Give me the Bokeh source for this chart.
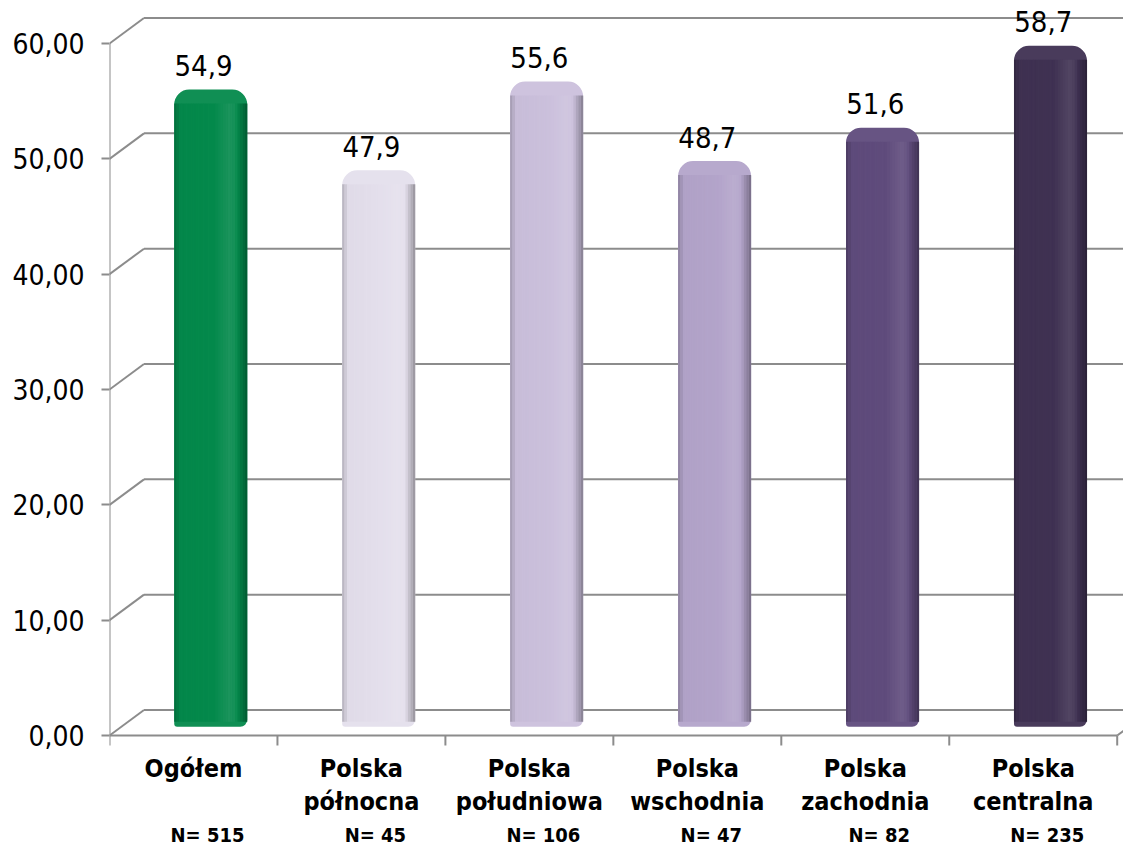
from bokeh.plotting import figure
from bokeh.models import Range1d, LinearAxis, FixedTicker
from bokeh.core.properties import value
from bokeh.embed import file_html
from bokeh.resources import INLINE

# ---------------- data ----------------
categories = ["Ogółem", "Polska\npółnocna", "Polska\npołudniowa",
              "Polska\nwschodnia", "Polska\nzachodnia", "Polska\ncentralna"]
values = [54.9, 47.9, 55.6, 48.7, 51.6, 58.7]
sample_sizes = [515, 45, 106, 47, 82, 235]
y_ticks = [0, 10, 20, 30, 40, 50, 60]

# ---------------- style ----------------
bar_colors = ["#03894B", "#E4DFEC", "#CBC0DC", "#B3A4CA", "#5F4B7C", "#3F3152"]
GRID = "#8c8c8c"
FONT = "DejaVu Sans Condensed"

W, H = 1123, 849
LEFT = 109
PX_X = 167.95      # px per category
PX_Y = 11.533      # px per value unit
ZERO_Y = 735       # canvas y of the front floor edge
TXT = 11           # baseline compensation (px)
x_end = (W - LEFT) / PX_X
y_end = ZERO_Y / PX_Y
y_start = y_end - H / PX_Y
DX = 34.5 / PX_X   # depth offset (x)
DY = 25.5 / PX_Y   # depth offset (y)
n = len(categories)


def mix(hexcol, f):
    r, g, b = (int(hexcol[i:i + 2], 16) for i in (1, 3, 5))
    if f >= 0:
        r, g, b = (c + (255 - c) * f for c in (r, g, b))
    else:
        r, g, b = (c * (1 + f) for c in (r, g, b))
    return "#%02x%02x%02x" % (int(round(r)), int(round(g)), int(round(b)))


def ypx(page_y):
    """canvas pixel row -> data value"""
    return (ZERO_Y - page_y) / PX_Y


p = figure(width=W, height=H, output_backend="svg", toolbar_location=None,
           x_range=Range1d(0, x_end), y_range=Range1d(y_start, y_end),
           x_axis_location=None, y_axis_location=None,
           min_border_left=LEFT, min_border_right=0, min_border_top=0,
           min_border_bottom=0, background_fill_color="white",
           border_fill_color="white", outline_line_color=None)
p.grid.visible = False

# ---------------- walls / gridlines ----------------
x0s, y0s, x1s, y1s = [], [], [], []
for t in y_ticks:
    x0s += [0, DX]
    y0s += [t, t + DY]
    x1s += [DX, n + DX]
    y1s += [t + DY, t + DY]
# front floor edge, right floor diagonal, front value axis
x0s += [0, n, 0]
y0s += [0, 0, 0]
x1s += [n, n + DX, 0]
y1s += [0, DY, y_ticks[-1]]
# category boundary ticks
for k in range(n + 1):
    x0s.append(k); y0s.append(0); x1s.append(k); y1s.append(-10 / PX_Y)
p.segment(x0=x0s, y0=y0s, x1=x1s, y1=y1s, line_color=GRID, line_width=2)

# ---------------- bars ----------------
bw = 73 / PX_X
xc = [i + 0.5 + DX / 2 for i in range(n)]
bot = DY / 2 - 4 / PX_Y
tops = [v + DY / 2 for v in values]
p.vbar(x=xc, width=bw, top=tops, bottom=bot,
       fill_color=[mix(c, 0.05) for c in bar_colors], line_color=None,
       border_radius=(15, 15, 7, 3))

# smooth cylinder-like shading (piecewise linear profile across bar width)
knots = [(0.0, -0.22), (0.08, -0.02), (0.55, 0.0), (0.76, 0.10),
         (0.84, 0.06), (0.92, -0.15), (1.0, -0.35)]


def shade(f):
    for (a, fa), (b, fb) in zip(knots[:-1], knots[1:]):
        if a <= f <= b:
            return fa + (fb - fa) * (f - a) / (b - a)
    return 0.0


NS = 30
L, R, T, B, C = [], [], [], [], []
for i in range(n):
    x_left = xc[i] - bw / 2
    for j in range(NS):
        f0, f1 = j / NS, (j + 1) / NS
        L.append(x_left + f0 * bw)
        R.append(x_left + f1 * bw + 0.0005)
        T.append(tops[i] - 14 / PX_Y)
        B.append(bot + 5 / PX_Y)
        C.append(mix(bar_colors[i], shade((f0 + f1) / 2)))
p.quad(left=L, right=R, top=T, bottom=B, fill_color=C, line_color=None)

# ---------------- value labels ----------------
p.text(x=[i + 0.5 + 10 / PX_X for i in range(n)],
       y=[t + (13 + TXT) / PX_Y for t in tops],
       text=[("%.1f" % v).replace(".", ",") for v in values],
       text_align="center", text_baseline="alphabetic",
       text_font=value(FONT), text_font_size="29px", text_color="black")

# ---------------- category labels ----------------
line1 = [c.split("\n")[0] for c in categories]
line2 = [c.split("\n")[1] if "\n" in c else "" for c in categories]
cx = [i + 0.5 for i in range(n)]
p.text(x=cx, y=[ypx(779 - TXT)] * n, text=line1, text_align="center",
       text_baseline="alphabetic", text_font=value(FONT),
       text_font_size="25px", text_font_style="bold", text_color="black")
p.text(x=cx, y=[ypx(812 - TXT)] * n, text=line2, text_align="center",
       text_baseline="alphabetic", text_font=value(FONT),
       text_font_size="25px", text_font_style="bold", text_color="black")
p.text(x=[i + 0.5 + 14 / PX_X for i in range(n)], y=[ypx(845 - TXT)] * n,
       text=["N= %d" % s for s in sample_sizes], text_align="center",
       text_baseline="alphabetic", text_font=value(FONT),
       text_font_size="20px", text_font_style="bold", text_color="black")

# ---------------- value axis ----------------
yaxis = LinearAxis(ticker=FixedTicker(ticks=y_ticks),
                   major_label_overrides={t: "%d,00" % t for t in y_ticks})
yaxis.axis_line_color = None
yaxis.major_tick_line_color = GRID
yaxis.major_tick_line_width = 2
yaxis.major_tick_out = 8
yaxis.major_tick_in = 0
yaxis.minor_tick_line_color = None
yaxis.major_label_standoff = 17
yaxis.major_label_text_font = FONT
yaxis.major_label_text_font_size = "28px"
yaxis.major_label_text_color = "black"
p.add_layout(yaxis, "left")

open("out.html", "w").write(file_html(p, INLINE))
